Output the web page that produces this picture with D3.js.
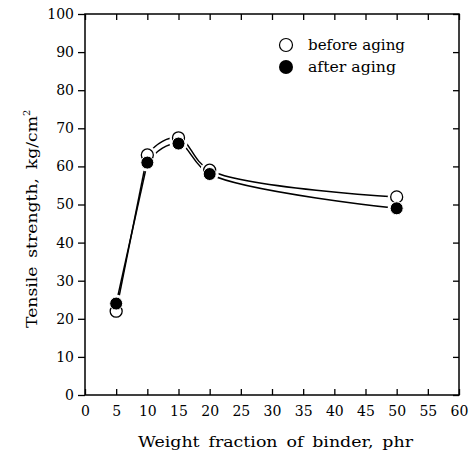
<!DOCTYPE html>
<html>
<head>
<meta charset="utf-8">
<script src="https://cdn.jsdelivr.net/npm/d3@7"></script>
<style>
  body { margin: 0; background: #fff; }
  svg { display: block; font-family: "DejaVu Serif", "Liberation Serif", serif; }
</style>
</head>
<body>
<div id="chart"></div>
<script>
const binder = [5, 10, 15, 20, 50]
const beforeAging = [22, 63, 67.5, 59, 52]
const afterAging = [24, 61, 66, 58, 49]
const xTicks = [0, 5, 10, 15, 20, 25, 30, 35, 40, 45, 50, 55, 60]
const yTicks = [0, 10, 20, 30, 40, 50, 60, 70, 80, 90, 100]

const width = 472, height = 455
const margin = { top: 14, right: 13, bottom: 60, left: 85 }

const svg = d3.select("#chart")
    .append("svg")
    .attr("width", width)
    .attr("height", height)

const x = d3.scaleLinear().domain([0, 60]).range([margin.left, width - margin.right])
const y = d3.scaleLinear().domain([0, 100]).range([height - margin.bottom, margin.top])

// frame
svg.append("rect")
    .attr("x", x(0)).attr("y", y(100))
    .attr("width", x(60) - x(0)).attr("height", y(0) - y(100))
    .attr("fill", "none").attr("stroke", "#000").attr("stroke-width", 1.5)

// bottom axis, ticks inward
const xAxis = svg.append("g")
    .attr("transform", `translate(0,${y(0)})`)
    .call(d3.axisBottom(x).tickValues(xTicks).tickSize(-6).tickPadding(11))
xAxis.select(".domain").remove()
xAxis.selectAll("text").attr("font-size", 14).attr("font-family", "DejaVu Serif").attr("fill", "#000")

// top axis ticks inward
const xTop = svg.append("g")
    .attr("transform", `translate(0,${y(100)})`)
    .call(d3.axisTop(x).tickValues(xTicks).tickSize(-6).tickFormat(""))
xTop.select(".domain").remove()

// left axis, ticks outward
const yAxis = svg.append("g")
    .attr("transform", `translate(${x(0)},0)`)
    .call(d3.axisLeft(y).tickValues(yTicks).tickSize(7).tickPadding(4))
yAxis.select(".domain").remove()
yAxis.selectAll("text").attr("font-size", 14).attr("font-family", "DejaVu Serif").attr("fill", "#000")

// right axis, ticks inward
const yRight = svg.append("g")
    .attr("transform", `translate(${x(60)},0)`)
    .call(d3.axisRight(y).tickValues(yTicks).tickSize(-6).tickFormat(""))
yRight.select(".domain").remove()

svg.selectAll(".tick line").attr("stroke", "#000").attr("stroke-width", 1.3)

// curves: straight rise from 5 to 10, smooth curve after that
svg.append("clipPath").attr("id", "right-of-10")
    .append("rect")
    .attr("x", x(10)).attr("y", 0)
    .attr("width", width).attr("height", height)

const curve = d3.line()
    .x((d, i) => x(binder[i]))
    .y(d => y(d))
    .curve(d3.curveCatmullRom.alpha(0.5))

function drawSeries(values) {
    svg.append("path")
        .datum(values)
        .attr("d", curve)
        .attr("clip-path", "url(#right-of-10)")
        .attr("fill", "none").attr("stroke", "#000").attr("stroke-width", 1.5)
    svg.append("line")
        .attr("x1", x(binder[0])).attr("y1", y(values[0]))
        .attr("x2", x(binder[1])).attr("y2", y(values[1]))
        .attr("stroke", "#000").attr("stroke-width", 1.5)
}
drawSeries(beforeAging)
drawSeries(afterAging)

// white halos leave a small gap between the curves and the markers
const all = binder.map((b, i) => [b, beforeAging[i]]).concat(binder.map((b, i) => [b, afterAging[i]]))
svg.selectAll(".halo")
    .data(all)
    .enter().append("circle")
    .attr("class", "halo")
    .attr("cx", d => x(d[0]))
    .attr("cy", d => y(d[1]))
    .attr("r", 9)
    .attr("fill", "#fff")

// markers
svg.selectAll(".before")
    .data(beforeAging)
    .enter().append("circle")
    .attr("class", "before")
    .attr("cx", (d, i) => x(binder[i]))
    .attr("cy", d => y(d))
    .attr("r", 6)
    .attr("fill", "#fff").attr("stroke", "#000").attr("stroke-width", 1.3)

svg.selectAll(".after")
    .data(afterAging)
    .enter().append("circle")
    .attr("class", "after")
    .attr("cx", (d, i) => x(binder[i]))
    .attr("cy", d => y(d))
    .attr("r", 6.5)
    .attr("fill", "#000").attr("stroke", "#fff").attr("stroke-width", 1)

// legend
const legend = svg.append("g").attr("font-size", 15)
legend.append("circle").attr("cx", 286).attr("cy", 45).attr("r", 6.5)
    .attr("fill", "#fff").attr("stroke", "#000").attr("stroke-width", 1.2)
legend.append("text").attr("x", 308).attr("y", 50)
    .attr("textLength", 97).attr("lengthAdjust", "spacingAndGlyphs").text("before aging")
legend.append("circle").attr("cx", 286).attr("cy", 67).attr("r", 7).attr("fill", "#000")
legend.append("text").attr("x", 308).attr("y", 72)
    .attr("textLength", 88).attr("lengthAdjust", "spacingAndGlyphs").text("after aging")

// axis titles
svg.append("text")
    .attr("x", 138)
    .attr("y", 447)
    .attr("font-size", 15.5)
    .attr("word-spacing", 3)
    .attr("textLength", 275).attr("lengthAdjust", "spacingAndGlyphs")
    .text("Weight fraction of binder, phr")

const yt = svg.append("text")
    .attr("transform", `translate(37,328) rotate(-90)`)
    .attr("font-size", 15.5)
    .attr("word-spacing", 3)
yt.append("tspan").attr("textLength", 212).attr("lengthAdjust", "spacingAndGlyphs").text("Tensile strength, kg/cm")
yt.append("tspan").attr("font-size", 10).attr("dy", -7).text("2")
</script>
</body>
</html>
